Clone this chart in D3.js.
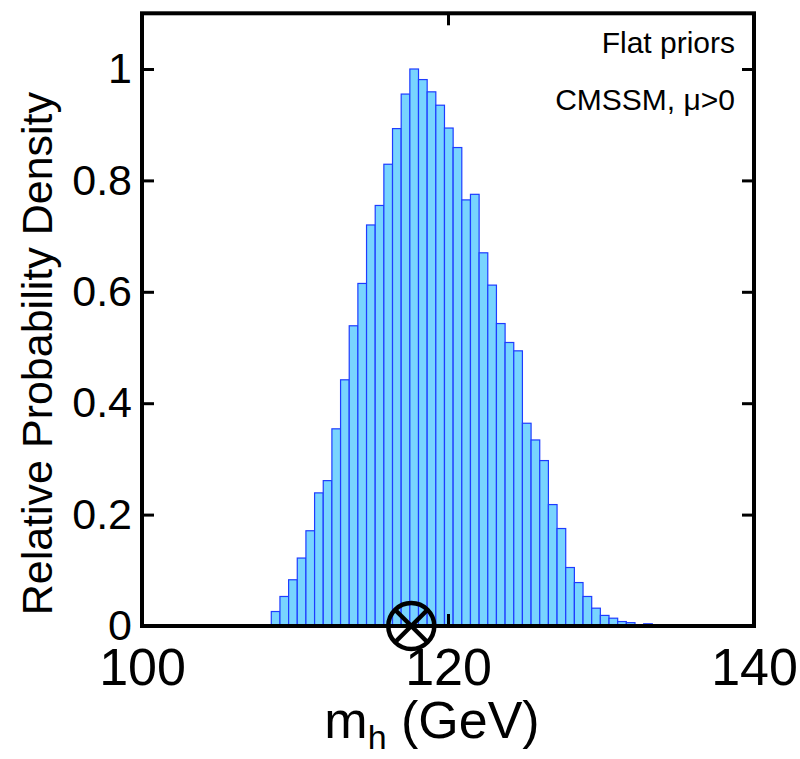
<!DOCTYPE html>
<html>
<head>
<meta charset="utf-8">
<script src="https://cdn.jsdelivr.net/npm/d3@7/dist/d3.min.js"></script>
<style>
  html, body { margin: 0; padding: 0; background: #fff; }
  svg { display: block; }
  text { font-family: "Liberation Sans", Arial, Helvetica, sans-serif; fill: #000; }
</style>
</head>
<body>
<svg id="chart" width="800" height="759"></svg>
<script>
// ---- data ----
const binEdges = [108.45, 109.016, 109.582, 110.148, 110.714, 111.28, 111.846, 112.412, 112.978, 113.544,
  114.11, 114.676, 115.242, 115.808, 116.374, 116.94, 117.506, 118.072, 118.638, 119.204,
  119.77, 120.336, 120.902, 121.468, 122.034, 122.6, 123.166, 123.732, 124.298, 124.864,
  125.43, 125.996, 126.562, 127.128, 127.694, 128.26, 128.826, 129.392, 129.958, 130.524,
  131.09, 131.656, 132.222, 132.788, 133.354, 133.92, 134.486, 135.052, 135.618];
const density = [0.026, 0.053, 0.083, 0.122, 0.171, 0.239, 0.261, 0.354, 0.442, 0.539,
  0.615, 0.720, 0.755, 0.829, 0.893, 0.955, 1.000, 0.981, 0.959, 0.935,
  0.894, 0.859, 0.765, 0.775, 0.670, 0.612, 0.543, 0.509, 0.494, 0.364,
  0.334, 0.297, 0.218, 0.175, 0.105, 0.078, 0.053, 0.032, 0.019, 0.014,
  0.008, 0.006, 0.001, 0.004, 0.002, 0.001, 0.002, 0.002];
const xTicks = [100, 120, 140];
const yTicks = [0, 0.2, 0.4, 0.6, 0.8, 1];
const bestFit = 117.6;
const xDomain = [100, 140];
const yDomain = [0, 1.1];
const annotations = ["Flat priors", "CMSSM, \u03bc>0"];

// ---- layout ----
const L = 142, R = 754, T = 13.3, B = 626;
const svg = d3.select("#chart");
const x = d3.scaleLinear().domain(xDomain).range([L, R]);
const y = d3.scaleLinear().domain(yDomain).range([B, T]);

const bins = density.map((v, i) => ({ x0: binEdges[i], x1: binEdges[i + 1], v }));

// bars
svg.append("g").selectAll("rect").data(bins).join("rect")
  .attr("x", d => x(d.x0))
  .attr("width", d => x(d.x1) - x(d.x0))
  .attr("y", d => y(d.v))
  .attr("height", d => y(0) - y(d.v))
  .attr("fill", "#78d4fe")
  .attr("stroke", "#1e3cff")
  .attr("stroke-width", 1.2);

// axes (ticks inward on all four sides)
const tickLen = 12;
const axB = svg.append("g").attr("transform", `translate(0,${B})`)
  .call(d3.axisBottom(x).tickValues(xTicks).tickSizeInner(-tickLen).tickSizeOuter(0).tickPadding(22).tickFormat(d3.format("d")));
const axT = svg.append("g").attr("transform", `translate(0,${T})`)
  .call(d3.axisTop(x).tickValues(xTicks).tickSizeInner(-tickLen).tickSizeOuter(0).tickFormat(""));
const axL = svg.append("g").attr("transform", `translate(${L},0)`)
  .call(d3.axisLeft(y).tickValues(yTicks).tickSizeInner(-tickLen).tickSizeOuter(0).tickPadding(10).tickFormat(d => d === 0 ? "0" : d === 1 ? "1" : d3.format(".1f")(d)));
const axR = svg.append("g").attr("transform", `translate(${R},0)`)
  .call(d3.axisRight(y).tickValues(yTicks).tickSizeInner(-tickLen).tickSizeOuter(0).tickFormat(""));

[axB, axT, axL, axR].forEach(a => {
  a.select(".domain").remove();
  a.selectAll(".tick line").attr("stroke", "#000").attr("stroke-width", 3);
});
axB.selectAll(".tick text").attr("font-size", 52).attr("font-family", "Liberation Sans, Arial, sans-serif")
  .attr("dy", "0.71em");
axL.selectAll(".tick text").attr("font-size", 43).attr("font-family", "Liberation Sans, Arial, sans-serif")
  .attr("dy", "0.32em");

// frame
svg.append("rect").attr("x", L).attr("y", T).attr("width", R - L).attr("height", B - T)
  .attr("fill", "none").attr("stroke", "#000").attr("stroke-width", 4);

// best-fit marker (circle with cross)
const mx = x(bestFit), my = y(0), mr = 23;
const mk = svg.append("g").attr("stroke", "#000").attr("stroke-width", 4.5).attr("fill", "none");
mk.append("circle").attr("cx", mx).attr("cy", my).attr("r", mr);
const k = mr * Math.SQRT1_2;
mk.append("line").attr("x1", mx - k).attr("y1", my - k).attr("x2", mx + k).attr("y2", my + k);
mk.append("line").attr("x1", mx - k).attr("y1", my + k).attr("x2", mx + k).attr("y2", my - k);

// annotations
svg.append("text").attr("x", 735).attr("y", 53).attr("text-anchor", "end").attr("font-size", 30).text(annotations[0]);
svg.append("text").attr("x", 735).attr("y", 110).attr("text-anchor", "end").attr("font-size", 30).text(annotations[1]);

// axis labels
svg.append("text").attr("transform", `translate(52,${(T + B) / 2 + 34}) rotate(-90)`)
  .attr("text-anchor", "middle").attr("font-size", 43).text("Relative Probability Density");

const xl = svg.append("text").attr("x", 432).attr("y", 738).attr("text-anchor", "middle").attr("font-size", 52);
xl.append("tspan").text("m");
xl.append("tspan").attr("font-size", 34).attr("dy", 11).text("h");
xl.append("tspan").attr("dy", -11).text(" (GeV)");
</script>
</body>
</html>
